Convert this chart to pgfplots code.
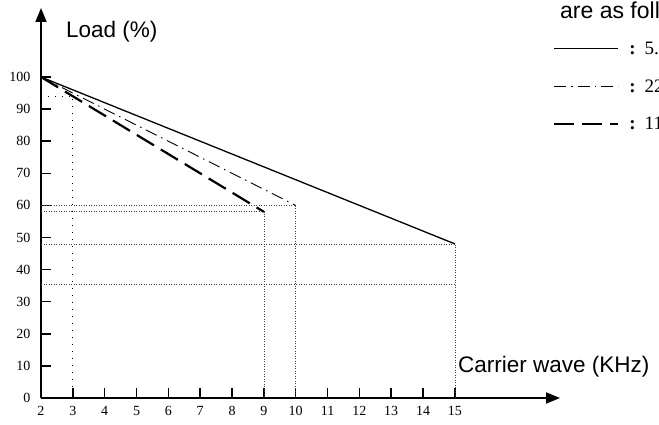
\documentclass[border=0pt]{standalone}
\usepackage{fontspec}
\setmainfont{Liberation Serif}
\newfontfamily\arial{Liberation Sans}
\usepackage{pgfplots}
\pgfplotsset{compat=1.18}
\usetikzlibrary{arrows.meta}
\begin{document}
\begin{tikzpicture}
\useasboundingbox (0pt,0pt) rectangle (659pt,425pt);
\clip (0pt,0pt) rectangle (659pt,425pt);
\begin{axis}[
  at={(41pt,27pt)}, anchor=south west,
  scale only axis, width=519pt, height=390pt,
  xmin=2, xmax=18.3, ymin=0, ymax=121.5,
  axis lines=left,
  axis line style={line width=1.8pt, -{Triangle[length=14pt,width=11pt]}},
  xtick={2,...,15}, ytick={0,10,...,100},
  tick align=inside, major tick length=10pt,
  tick style={line width=1.5pt, black},
  /pgf/number format/assume math mode=true,
  tick label style={font=\fontsize{14}{16}\selectfont},
  xticklabel style={yshift=-5pt},
  yticklabel style={xshift=-7pt},
  clip=false,
  legend image code/.code={\draw[#1] (0pt,0pt) -- (64pt,0pt);},
  legend style={at={(axis description cs:0.9865,0.92)}, anchor=north west,
    draw=none, fill=none, inner sep=0pt, font=\fontsize{19}{21}\selectfont,
    row sep=19pt, cells={anchor=west}},
]
\addplot[black, line width=1.3pt] coordinates {(2,100) (15,48)};
\addlegendentry{\hspace{8pt}\textbf{:}\hspace{9pt}5.5kW}
\addplot[black, line width=0.9pt, dash pattern=on 12pt off 5pt on 1.5pt off 5pt] coordinates {(2,100) (10,60)};
\addlegendentry{\hspace{8pt}\textbf{:}\hspace{9pt}22kW}
\addplot[black, line width=2.2pt, dash pattern=on 20pt off 8pt] coordinates {(2,100) (9,58)};
\addlegendentry{\hspace{8pt}\textbf{:}\hspace{9pt}11kW}
% reference lines
\addplot[forget plot, black, line width=1pt, dash pattern=on 1pt off 6pt] coordinates {(2,94) (3,94) (3,0)};
\addplot[forget plot, black!75, line width=0.7pt, dash pattern=on 1pt off 1.5pt] coordinates {(2,60) (10,60) (10,0)};
\addplot[forget plot, black!75, line width=0.7pt, dash pattern=on 1pt off 1.5pt] coordinates {(2,58) (9,58) (9,0)};
\addplot[forget plot, black!75, line width=0.7pt, dash pattern=on 1pt off 1.5pt] coordinates {(2,48) (15,48) (15,0)};
\addplot[forget plot, black!75, line width=0.7pt, dash pattern=on 1pt off 1.5pt] coordinates {(2,35.5) (15,35.5)};
\end{axis}
\node[anchor=west, inner sep=0pt, font=\arial\fontsize{22.5}{26}\selectfont] at (66pt,393pt) {Load (\%)};
\node[anchor=west, inner sep=0pt, font=\arial\fontsize{22.5}{26}\selectfont] at (458pt,58pt) {Carrier wave (KHz)};
\node[anchor=west, inner sep=0pt, font=\arial\fontsize{23}{26}\selectfont] at (560pt,415pt) {are as follows};
\end{tikzpicture}
\end{document}
